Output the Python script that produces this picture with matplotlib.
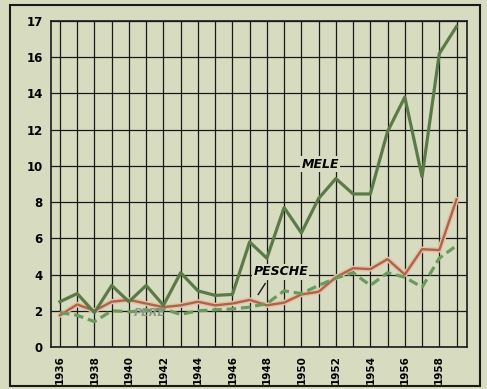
import numpy as np
import matplotlib
matplotlib.use("Agg")
import matplotlib.pyplot as plt
from matplotlib.patches import Rectangle

anni = list(range(1936, 1960))
mele = [2.5, 2.95, 1.9, 3.4, 2.5, 3.4, 2.3, 4.1, 3.1, 2.85, 2.9, 5.8,
        4.9, 7.7, 6.3, 8.2, 9.3, 8.45, 8.45, 11.9, 13.8, 9.4, 16.2, 17.7]
pesche = [1.75, 2.35, 2.0, 2.5, 2.6, 2.4, 2.2, 2.3, 2.5, 2.3, 2.4, 2.6,
          2.3, 2.45, 2.9, 3.05, 3.85, 4.35, 4.3, 4.85, 4.0, 5.4, 5.35, 8.15]
pere = [1.9, 1.75, 1.4, 2.0, 1.95, 2.0, 2.1, 1.8, 2.0, 2.05, 2.1, 2.2,
        2.4, 3.1, 2.95, 3.4, 3.8, 4.1, 3.4, 4.1, 3.85, 3.3, 4.9, 5.6]
y_ticks = [0, 2, 4, 6, 8, 10, 12, 14, 16, 18]
y_labels = ['0', '2', '4', '6', '8', '10', '12', '14', '16', '17']
x_ticks = list(range(1936, 1960, 2))

sfondo = '#d7dbc0'
fig = plt.figure(figsize=(4.87, 3.89), dpi=100, facecolor=sfondo)
ax = fig.add_axes([0.1047, 0.108, 0.854, 0.838])
ax.set_facecolor(sfondo)

# griglia: una linea per ogni anno, ogni 2 unita in verticale
for a in anni:
    ax.axvline(a, color='#1a1a1a', lw=0.9, zorder=1)
for v in y_ticks:
    ax.axhline(v, color='#1a1a1a', lw=0.9, zorder=1)

ax.plot(anni, pesche, color='#e8c0a8', lw=3.8, zorder=2, solid_capstyle='round')
ax.plot(anni, pesche, color='#a8664a', lw=1.7, zorder=3)
ax.plot(anni, pere, color='#6a9a5c', lw=2.3, ls=(0, (3, 1.5)), zorder=3)
ax.plot(anni, mele, color='#5b7a48', lw=2.3, zorder=4)

bb = dict(facecolor=sfondo, edgecolor='none', pad=1)
ax.text(1951.1, 10.1, 'MELE', fontsize=9, fontstyle='italic', fontweight='bold',
        ha='center', va='center', bbox=bb, zorder=5)
ax.text(1948.8, 4.15, 'PESCHE', fontsize=9, fontstyle='italic', fontweight='bold',
        ha='center', va='center', bbox=bb, zorder=5)
ax.text(1941.2, 1.9, 'PERE', fontsize=8, fontstyle='italic', fontweight='bold',
        color='#8a9a80', ha='center', va='center', zorder=5)
ax.plot([1947.9, 1947.5], [3.5, 2.9], color='#1a1a1a', lw=1, zorder=5)

ax.set_xlim(1935.48, 1959.6)
ax.set_ylim(0, 18)
ax.set_yticks(y_ticks)
ax.set_yticklabels(y_labels, fontsize=8.5, fontweight='bold')
ax.set_xticks(x_ticks)
ax.set_xticklabels([str(a) for a in x_ticks], rotation=90, fontsize=7.5, fontweight='bold')
ax.tick_params(length=0, pad=6)
for s in ax.spines.values():
    s.set_linewidth(1.2)
    s.set_color('#1a1a1a')

fig.patches.append(Rectangle((10 / 487, 3 / 389), 470 / 487, 381 / 389,
                             transform=fig.transFigure, fill=False,
                             edgecolor='#1a1a1a', lw=1.5))

fig.savefig('out.png', dpi=100, facecolor=sfondo)
